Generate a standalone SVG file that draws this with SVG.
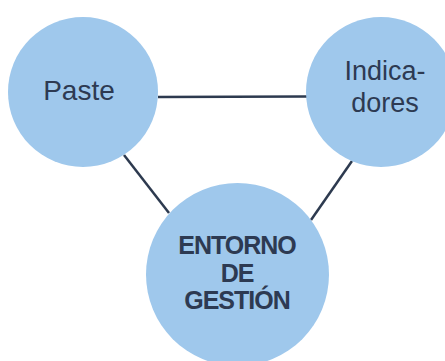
<svg xmlns="http://www.w3.org/2000/svg" width="445" height="361" viewBox="0 0 445 361">
<style>
.node{fill:#9fc8ec;}
.lbl{font-family:"Liberation Sans",Arial,sans-serif;fill:#2d3a52;text-anchor:middle;}
.reg{font-size:27px;}
.big{font-size:28px;}
.bold{font-size:25px;font-weight:bold;letter-spacing:-1px;}
.edge{stroke:#2d3a4f;stroke-width:2.5;fill:none;}
</style>
<rect width="445" height="361" fill="#ffffff"/>
<g id="connectors">
<line class="edge" x1="158" y1="97" x2="307" y2="96.5"/>
<line class="edge" x1="124" y1="155" x2="169" y2="213"/>
<line class="edge" x1="352" y1="161" x2="311" y2="220"/>
</g>
<g id="node-paste">
<circle class="node" cx="83" cy="92" r="75"/>
<text class="lbl big" x="79" y="100">Paste</text>
</g>
<g id="node-indicadores">
<circle class="node" cx="381" cy="92" r="75"/>
<text class="lbl reg" x="385" y="80">Indica-</text>
<text class="lbl reg" x="385" y="112">dores</text>
</g>
<g id="node-entorno">
<circle class="node" cx="237.5" cy="274.5" r="91.5"/>
<text class="lbl bold" x="237" y="254">ENTORNO</text>
<text class="lbl bold" x="237" y="282">DE</text>
<text class="lbl bold" x="237" y="309">GESTIÓN</text>
</g>
</svg>
